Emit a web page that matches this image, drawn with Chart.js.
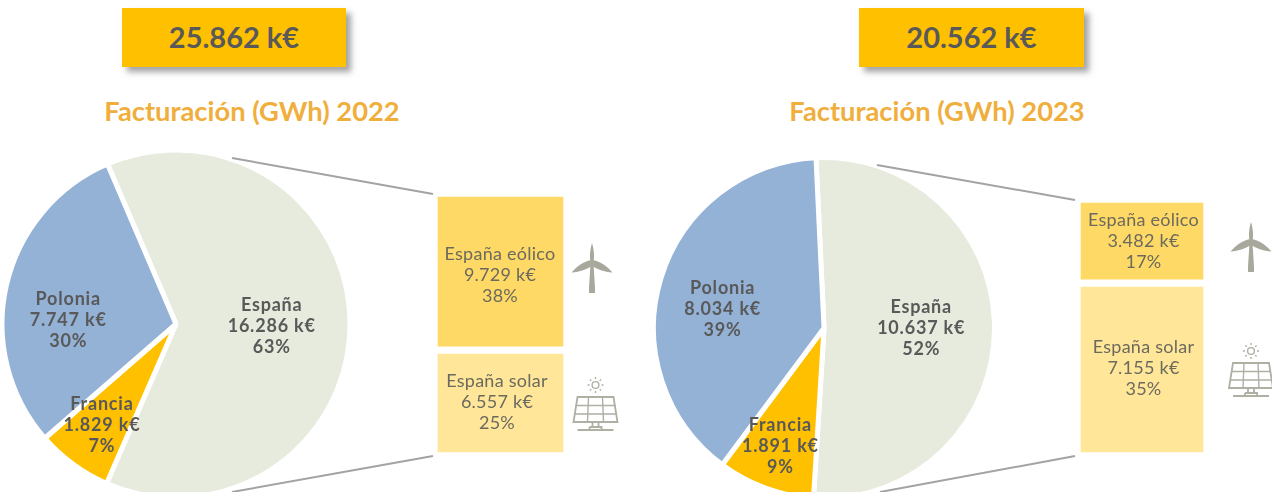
<!DOCTYPE html>
<html lang="es">
<head>
<meta charset="utf-8">
<title>Facturación</title>
<script src="https://cdn.jsdelivr.net/npm/chart.js@4"></script>
<style>
html,body{margin:0;padding:0;background:#fff;overflow:hidden}
#page{position:relative;width:1272px;height:492px;overflow:hidden;font-family:Lato,sans-serif}
#page canvas{position:absolute}
.box{position:absolute;top:8px;width:224px;height:59px;line-height:57px;background:#FFC000;color:#595959;font-weight:700;font-size:29px;text-align:center;box-shadow:5px 5px 6px rgba(90,90,90,.55)}
.title{position:absolute;top:94px;width:400px;text-align:center;color:#F0AE3C;font-weight:700;font-size:27.3px;line-height:34px}
svg{position:absolute;left:0;top:0;z-index:2}
</style>
</head>
<body>
<div id="page">
  <svg width="1272" height="492" viewBox="0 0 1272 492">
    <defs>
      <g id="turbine" fill="#A9A89C">
        <path d="M0 -20 C2.4 -12 2.4 -5 1.4 -1 L3 25 L3 30 L-3 30 L-3 25 L-1.4 -1 C-2.4 -5 -2.4 -12 0 -20Z"/>
        <path d="M0 -3 C8 -2 15 3 20.5 9.5 C12 9 5 6 0 3Z"/>
        <path d="M0 -3 C-8 -2 -15 3 -20.5 9.5 C-12 9 -5 6 0 3Z"/>
      </g>
      <g id="solar" fill="none" stroke="#B0AFA4" stroke-width="1.4">
        <circle cx="0" cy="0" r="3.4"/>
        <path d="M0 -8V-6M0 6V8M-8 0H-6M6 0H8M-5.6 -5.6L-4.2 -4.2M4.2 4.2L5.6 5.6M-5.6 5.6L-4.2 4.2M4.2 -4.2L5.6 -5.6"/>
        <path d="M-18 12H18L22 37H-22Z" stroke-width="1.8"/>
        <path d="M-20 20.5H20M-21 29H21M-7 12L-8 37M7 12L8 37"/>
        <path d="M-3 37V42M3 37V42M-6 42H6V45M-6 42V45M-18 45H18" stroke-width="1.8"/>
      </g>
    </defs>
    <g stroke="#A3A3A3" stroke-width="2" fill="none">
      <path d="M232 158L433 194"/>
      <path d="M232 492L433 456"/>
      <path d="M877 165L1075 200"/>
      <path d="M880 492L1075 456"/>
    </g>
    <use href="#turbine" x="592" y="263"/>
    <use href="#solar" x="595.5" y="385"/>
    <use href="#turbine" x="1251" y="242"/>
    <use href="#solar" x="1251" y="351"/>
  </svg>
  <div class="box" style="left:122px">25.862 k€</div>
  <div class="box" style="left:859px;width:225px">20.562 k€</div>
  <div class="title" style="left:52px">Facturación (GWh) 2022</div>
  <div class="title" style="left:737px">Facturación (GWh) 2023</div>
  <canvas id="pie22" width="354" height="354" style="left:-1px;top:147px;width:354px;height:354px"></canvas>
  <canvas id="bar22" width="133" height="263" style="left:434px;top:193px;width:133px;height:263px"></canvas>
  <canvas id="pie23" width="346" height="346" style="left:651px;top:155px;width:346px;height:346px"></canvas>
  <canvas id="bar23" width="130" height="257" style="left:1077px;top:199px;width:130px;height:257px"></canvas>
</div>
<script>
const pieCategories = ['España', 'Francia', 'Polonia'];
const pieColors = ['#E6EBDD', '#FFC000', '#94B1D6'];
const values2022 = [16286, 1829, 7747];
const labels2022 = ['16.286 k€', '1.829 k€', '7.747 k€'];
const shares2022 = ['63%', '7%', '30%'];
const values2023 = [10637, 1891, 8034];
const labels2023 = ['10.637 k€', '1.891 k€', '8.034 k€'];
const shares2023 = ['52%', '9%', '39%'];
const barCategories = ['España solar', 'España eólico'];
const barColors = ['#FFE699', '#FFD966'];
const barValues2022 = [6557, 9729];
const barLabels2022 = ['6.557 k€', '9.729 k€'];
const barShares2022 = ['25%', '38%'];
const barValues2023 = [7155, 3482];
const barLabels2023 = ['7.155 k€', '3.482 k€'];
const barShares2023 = ['35%', '17%'];

const LINE = 21;
function drawLines(ctx, lines, x, y, font, color, spacing) {
  ctx.save();
  ctx.font = font;
  ctx.letterSpacing = spacing;
  ctx.fillStyle = color;
  ctx.textAlign = 'center';
  ctx.textBaseline = 'middle';
  lines.forEach((t, i) => ctx.fillText(t, x, y + (i - (lines.length - 1) / 2) * LINE));
  ctx.restore();
}
function pieLabels(amounts, shares, place) {
  return {
    id: 'pieLabels',
    afterDatasetsDraw(chart) {
      chart.getDatasetMeta(0).data.forEach((arc, i) => {
        const a = (arc.startAngle + arc.endAngle) / 2 + place[i][1] * Math.PI / 180;
        const r = arc.outerRadius * place[i][0];
        drawLines(chart.ctx, [pieCategories[i], amounts[i], shares[i]],
          arc.x + Math.cos(a) * r, arc.y + Math.sin(a) * r + place[i][2],
          '700 18px Lato, sans-serif', '#595959', '0.8px');
      });
    }
  };
}
function barLabels(amounts, shares, nudge) {
  return {
    id: 'barLabels',
    afterDatasetsDraw(chart) {
      chart.data.datasets.forEach((ds, i) => {
        const p = chart.getDatasetMeta(i).data[0].getProps(['x', 'y', 'base'], true);
        drawLines(chart.ctx, [barCategories[i], amounts[i], shares[i]],
          p.x + nudge[i][0], (p.y + p.base) / 2 + nudge[i][1],
          '400 18px Lato, sans-serif', '#6B6A5E', '0.25px');
      });
    }
  };
}
function makePie(id, values, rotation, radius, amounts, shares, place) {
  new Chart(document.getElementById(id), {
    type: 'pie',
    data: { labels: pieCategories, datasets: [{ data: values, backgroundColor: pieColors, borderColor: '#FFFFFF', borderWidth: 5 }] },
    options: {
      responsive: false, animation: false, rotation, radius,
      layout: { padding: 0 },
      plugins: { legend: { display: false }, tooltip: { enabled: false } }
    },
    plugins: [pieLabels(amounts, shares, place)]
  });
}
function makeBar(id, values, amounts, shares, nudge) {
  new Chart(document.getElementById(id), {
    type: 'bar',
    data: {
      labels: [''],
      datasets: barCategories.map((name, i) => ({
        label: name, data: [values[i]], backgroundColor: barColors[i],
        borderColor: '#FFFFFF', borderWidth: 4, borderSkipped: false,
        barPercentage: 1, categoryPercentage: 1
      }))
    },
    options: {
      responsive: false, animation: false,
      layout: { padding: 0 },
      scales: {
        x: { stacked: true, display: false },
        y: { stacked: true, display: false, min: 0, max: values[0] + values[1] }
      },
      plugins: { legend: { display: false }, tooltip: { enabled: false } }
    },
    plugins: [barLabels(amounts, shares, nudge)]
  });
}
makePie('pie22', values2022, -23.2, 174, labels2022, shares2022, [[0.55, 0, 2], [0.72, 0, 0], [0.62, -10.3, 1]]);
makeBar('bar22', barValues2022, barLabels2022, barShares2022, [[-3.5, -1], [-0.5, 4]]);
makePie('pie23', values2023, -2.7, 170.5, labels2023, shares2023, [[0.57, 0, -1], [0.745, 0, -1], [0.605, -6.3, 0]]);
makeBar('bar23', barValues2023, barLabels2023, barShares2023, [[1.5, -1], [1.5, 0.5]]);
</script>
</body>
</html>
